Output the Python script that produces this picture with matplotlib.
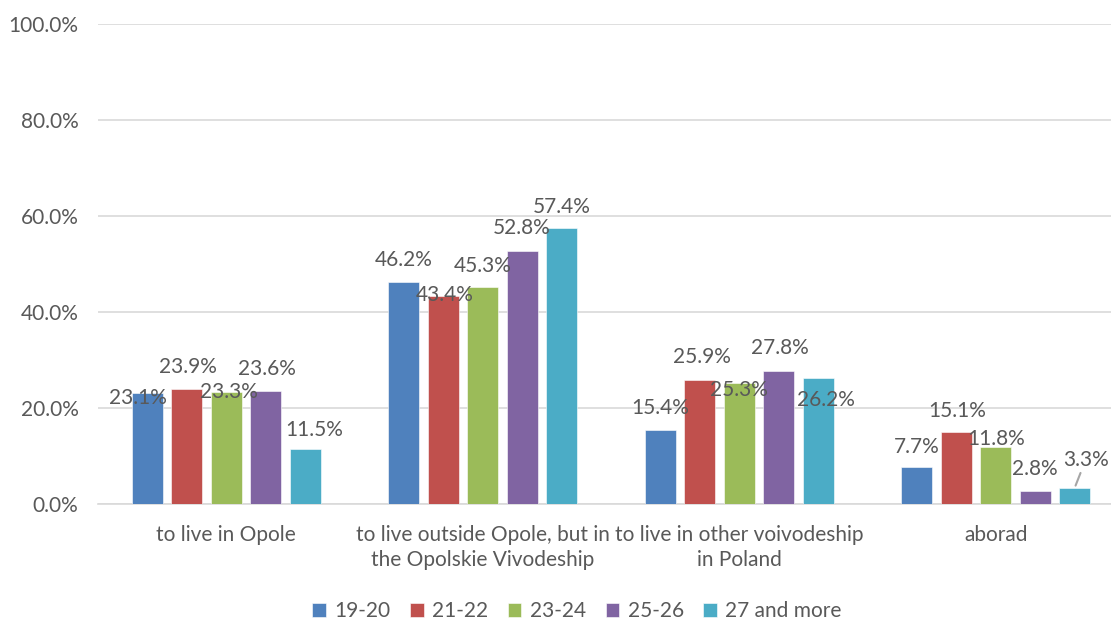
import numpy as np
import matplotlib
matplotlib.use("Agg")
import matplotlib.pyplot as plt

plt.rcParams["font.family"] = ["Lato", "DejaVu Sans"]

categories = [
    "to live in Opole",
    "to live outside Opole, but in\nthe Opolskie Vivodeship",
    "to live in other voivodeship\nin Poland",
    "aborad",
]
series_names = ["19-20", "21-22", "23-24", "25-26", "27 and more"]
values = [
    [23.1, 46.2, 15.4, 7.7],   # 19-20
    [23.9, 43.4, 25.9, 15.1],  # 21-22
    [23.3, 45.3, 25.3, 11.8],  # 23-24
    [23.6, 52.8, 27.8, 2.8],   # 25-26
    [11.5, 57.4, 26.2, 3.3],   # 27 and more
]
colors = ["#4F81BD", "#C0504D", "#9BBB59", "#8064A2", "#4BACC6"]

# label offsets in pixels (dx, dy) from bar top centre, as placed in the original
label_offsets = [
    [(-10, -5), (0, 22), (0, 22), (0, 20)],
    [(1, 22), (1, 1), (2, 23), (1, 21)],
    [(3, 0), (0, 21), (0, -7), (0, 8)],
    [(1, 22), (0, 23), (1, 23), (0, 22)],
    [(9, 19), (0, 21), (8, -22), (11, 28)],
]

text_col = "#595959"
grid_col = "#D9D9D9"
fs = 15

fig = plt.figure(figsize=(11.11, 6.21), dpi=100)
ax = fig.add_axes([98 / 1111, 117 / 621, 1026 / 1111, 480 / 621])

x = np.arange(len(categories))
step = 0.1536
width = 0.121

for i, (name, vals) in enumerate(zip(series_names, values)):
    pos = x + (i - 2) * step
    ax.bar(pos, vals, width=width, color=colors[i], label=name, zorder=3,
           edgecolor="white", linewidth=0.4)
    for j, v in enumerate(vals):
        dx, dy = label_offsets[i][j]
        if i == 4 and j == 3:
            # last label has a leader line back to its bar
            ax.annotate(f"{v:.1f}%", xy=(pos[j], v), xytext=(dx, dy),
                        textcoords="offset pixels", ha="center", va="center",
                        fontsize=fs, color=text_col, zorder=5,
                        arrowprops=dict(arrowstyle="-", color="#A6A6A6", lw=1.5,
                                        shrinkA=0, shrinkB=2))
        else:
            ax.annotate(f"{v:.1f}%", xy=(pos[j], v), xytext=(dx, dy),
                        textcoords="offset pixels", ha="center", va="center",
                        fontsize=fs, color=text_col, zorder=5)

ax.set_xlim(-0.5, 3.5)
ax.set_ylim(0, 100)
ax.set_yticks(np.arange(0, 101, 20))
ax.set_yticklabels([f"{t:.1f}%" for t in np.arange(0, 101, 20)])
ax.set_xticks(x)
ax.set_xticklabels(categories, linespacing=1.35)

ax.yaxis.grid(True, color=grid_col, linewidth=1.2, zorder=0)
for s in ["top", "right", "left"]:
    ax.spines[s].set_visible(False)
ax.spines["bottom"].set_color(grid_col)
ax.spines["bottom"].set_linewidth(1.2)
ax.tick_params(axis="both", length=0, labelsize=fs, colors=text_col)
ax.tick_params(axis="y", pad=14)
ax.tick_params(axis="x", pad=15)

leg = fig.legend(loc="center", bbox_to_anchor=(577 / 1111, 1 - 611 / 621),
                 ncol=5, frameon=False, fontsize=fs, handlelength=0.65,
                 handleheight=0.65, handletextpad=0.4, columnspacing=0.95,
                 labelcolor=text_col)

fig.savefig("out.png", dpi=100)
